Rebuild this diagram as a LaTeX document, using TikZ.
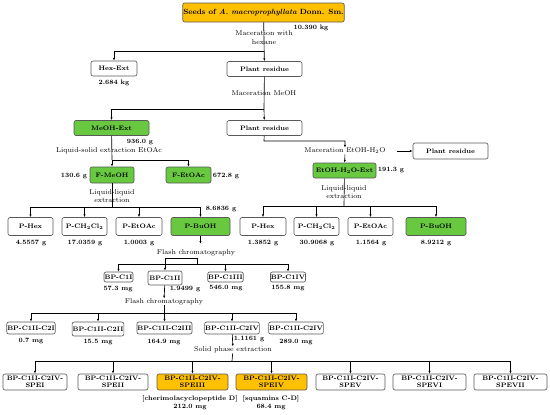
\documentclass[tikz,border=0pt]{standalone}
\usepackage{tikz}
\usetikzlibrary{positioning,calc,arrows.meta}
\definecolor{extgreen}{RGB}{104,200,64}
\definecolor{cpdorange}{RGB}{255,192,0}
\begin{document}
\begin{tikzpicture}[x=1pt,y=-1pt,line width=0.65pt,
    box/.style={draw=black!65, rounded corners=2pt, fill=white, align=center, inner sep=0.5pt, font=\bfseries\fontsize{6.5}{6.8}\selectfont},
    ext/.style={box, fill=extgreen},
    cpd/.style={box, fill=cpdorange},
    proc/.style={align=center, inner sep=0pt, font=\fontsize{7}{8.5}\selectfont},
    val/.style={inner sep=0pt, font=\bfseries\fontsize{6.5}{7}\selectfont},
    arr/.style={-{Latex[length=2.8pt,width=2.2pt]}}]
    \useasboundingbox (0,0) rectangle (550,415);

    % extraction
    \node[cpd, minimum width=142pt, minimum height=19pt, font=\bfseries\fontsize{7.5}{8}\selectfont] (seeds) at (263.5,12.5) {Seeds of \textit{A.~macroprophyllata} Donn. Sm.};
    \node[val] (mseeds) at (311,28) {10.390 kg};
    \node[proc] (machex) at (264,37.5) {Maceration with\\hexane};
    \node[box, minimum width=46pt, minimum height=15pt] (hexext) at (114,68.5) {Hex-Ext};
    \node[val] (mhex) at (114,83) {2.684 kg};
    \node[box, minimum width=75pt, minimum height=15pt] (res1) at (264.5,69) {Plant residue};
    \node[proc] (macmeoh) at (264,93) {Maceration MeOH};
    \node[ext, minimum width=75pt, minimum height=15pt] (meohext) at (111.5,128) {MeOH-Ext};
    \node[box, minimum width=75pt, minimum height=15pt] (res2) at (264.5,128) {Plant residue};
    \node[val] (mmeoh) at (140,142) {936.0 g};
    \node[proc] (lse) at (109,151) {Liquid-solid extraction EtOAc};
    \node[ext, minimum width=44pt, minimum height=16pt] (fmeoh) at (112,175) {F-MeOH};
    \node[val] (mfmeoh) at (74,176) {130.6 g};
    \node[ext, minimum width=45pt, minimum height=16pt] (fetoac) at (188.5,175) {F-EtOAc};
    \node[val] (mfetoac) at (226,176) {672.8 g};
    \node[proc] (lle1) at (112,196) {Liquid-liquid\\extraction};
    \node[val] (mfmeoh2) at (221,209) {8.6836 g};
    \node[proc] (maceth) at (345,151) {Maceration EtOH-H\textsubscript{2}O};
    \node[box, minimum width=75pt, minimum height=16pt] (res3) at (450.5,151) {Plant residue};
    \node[ext, minimum width=63pt, minimum height=15pt] (etohext) at (344.5,170.5) {EtOH-H\textsubscript{2}O-Ext};
    \node[val] (metoh) at (391,170) {191.3 g};
    \node[proc] (lle2) at (344,192) {Liquid-liquid\\extraction};

    % partitions
    \node[box, minimum width=45pt, minimum height=18pt] (phexa) at (30.5,226.5) {P-Hex};
    \node[box, minimum width=45pt, minimum height=18pt] (pcla) at (84.5,226.5) {P-CH\textsubscript{2}Cl\textsubscript{2}};
    \node[box, minimum width=46pt, minimum height=18pt] (petoaca) at (139,226.5) {P-EtOAc};
    \node[ext, minimum width=59pt, minimum height=18pt] (pbuoha) at (200.5,226.5) {P-BuOH};
    \node[box, minimum width=46pt, minimum height=18pt] (phexb) at (263,226.5) {P-Hex};
    \node[box, minimum width=45pt, minimum height=18pt] (pclb) at (316.5,226.5) {P-CH\textsubscript{2}Cl\textsubscript{2}};
    \node[box, minimum width=45pt, minimum height=18pt] (petoacb) at (370.5,226.5) {P-EtOAc};
    \node[ext, minimum width=60pt, minimum height=18pt] (pbuohb) at (436,226.5) {P-BuOH};
    \node[val] at (31,243) {4.5557 g};
    \node[val] at (85,243) {17.0359 g};
    \node[val] at (139,243) {1.0003 g};
    \node[val] at (263,243) {1.3852 g};
    \node[val] at (317,243) {30.9068 g};
    \node[val] at (371,243) {1.1564 g};
    \node[val] at (436,243) {8.9212 g};

    % first flash chromatography
    \node[proc] (fc1) at (196,253) {Flash chromatography};
    \node[box, minimum width=29pt, minimum height=10pt] (c1i) at (118.5,277) {BP-C1I};
    \node[box, minimum width=34pt, minimum height=14pt] (c1ii) at (165,278) {BP-C1II};
    \node[box, minimum width=33pt, minimum height=10pt] (c1iii) at (225.5,277) {BP-C1III};
    \node[box, minimum width=34pt, minimum height=10pt] (c1iv) at (288,277) {BP-C1IV};
    \node[val] at (118,289) {57.3 mg};
    \node[val] at (185,289) {1.9499 g};
    \node[val] at (226,288) {546.0 mg};
    \node[val] at (288,288) {155.8 mg};

    % second flash chromatography
    \node[proc] (fc2) at (164,302) {Flash chromatography};
    \node[box, minimum width=46pt, minimum height=12pt] (c2i) at (31,328) {BP-C1II-C2I};
    \node[box, minimum width=50pt, minimum height=14pt] (c2ii) at (98,329) {BP-C1II-C2II};
    \node[box, minimum width=51pt, minimum height=12pt] (c2iii) at (164.5,328) {BP-C1II-C2III};
    \node[box, minimum width=50pt, minimum height=12pt] (c2iv) at (232,328) {BP-C1II-C2IV};
    \node[box, minimum width=48pt, minimum height=12pt] (c2v) at (296,328) {BP-C1II-C2IV};
    \node[val] at (31,341) {0.7 mg};
    \node[val] at (98,342) {15.5 mg};
    \node[val] at (164,342) {164.9 mg};
    \node[val] at (249,339) {1.1161 g};
    \node[val] at (296,342) {289.0 mg};

    % solid phase extraction
    \node[proc] (spe) at (233,350) {Solid phase extraction};
    \node[box, minimum width=64pt, minimum height=16pt] (spei) at (35,382) {BP-C1II-C2IV-\\SPEI};
    \node[box, minimum width=70pt, minimum height=16pt] (speii) at (113,382) {BP-C1II-C2IV-\\SPEII};
    \node[cpd, minimum width=71pt, minimum height=16pt] (speiii) at (192.5,382) {BP-C1II-C2IV-\\SPEIII};
    \node[cpd, minimum width=71pt, minimum height=16pt] (speiv) at (271.5,382) {BP-C1II-C2IV-\\SPEIV};
    \node[box, minimum width=69pt, minimum height=16pt] (spev) at (350.5,382) {BP-C1II-C2IV-\\SPEV};
    \node[box, minimum width=73pt, minimum height=16pt] (spevi) at (429.5,382) {BP-C1II-C2IV-\\SPEVI};
    \node[box, minimum width=73pt, minimum height=16pt] (spevii) at (510.5,382) {BP-C1II-C2IV-\\SPEVII};
    \node[val, align=center, font=\bfseries\fontsize{6.5}{8}\selectfont] at (190,403) {[cherimolacyclopeptide D]\\212.0 mg};
    \node[val, align=center, font=\bfseries\fontsize{6.5}{8}\selectfont] at (271,403) {[squamins C-D]\\68.4 mg};

    % branch points
    \coordinate (b1) at (264,51);
    \coordinate (b2) at (264,109);
    \coordinate (b3) at (112,160);
    \coordinate (b4) at (112,207);
    \coordinate (b5) at (264,141);
    \coordinate (b6) at (344,206);
    \coordinate (b7a) at (197,258);
    \coordinate (b7) at (197,264);
    \coordinate (b8) at (164,313);
    \coordinate (b9) at (232,361);

    \draw[arr] (seeds) -- (res1);
    \draw[arr] (b1) -| (hexext);
    \draw (res1) -- (b2);
    \draw[arr] (b2) -- (res2);
    \draw[arr] (b2) -| (meohext);
    \draw (meohext) -- (b3);
    \draw[arr] (b3) -- (fmeoh);
    \draw[arr] (b3) -| (fetoac);
    \draw (fmeoh) -- (b4);
    \foreach \n in {phexa,pcla,petoaca,pbuoha} \draw[arr] (b4) -| (\n);
    \draw[arr] (res2) -- (b5) -| (maceth);
    \draw[arr] (maceth) -- (etohext);
    \draw[arr, shorten <=11pt] (maceth) -- (res3);
    \draw (etohext) -- (b6);
    \foreach \n in {phexb,pclb,petoacb,pbuohb} \draw[arr] (b6) -| (\n);
    \draw[arr] (pbuoha.south -| b7) ++(3.5,0) -- ++(0,8);
    \draw[arr] (b7) -- (b7a) -| (c1ii);
    \foreach \n in {c1i,c1iii,c1iv} \draw[arr] (b7) -| (\n);
    \draw[arr] (c1ii) -- (fc2);
    \draw (fc2) -- (b8);
    \foreach \n in {c2i,c2ii,c2iii,c2iv,c2v} \draw[arr] (b8) -| (\n);
    \draw[arr] (c2iv) -- (spe);
    \draw (spe) -- (b9);
    \foreach \n in {spei,speii,speiii,speiv,spev,spevi,spevii} \draw[arr] (b9) -| (\n);
\end{tikzpicture}
\end{document}
